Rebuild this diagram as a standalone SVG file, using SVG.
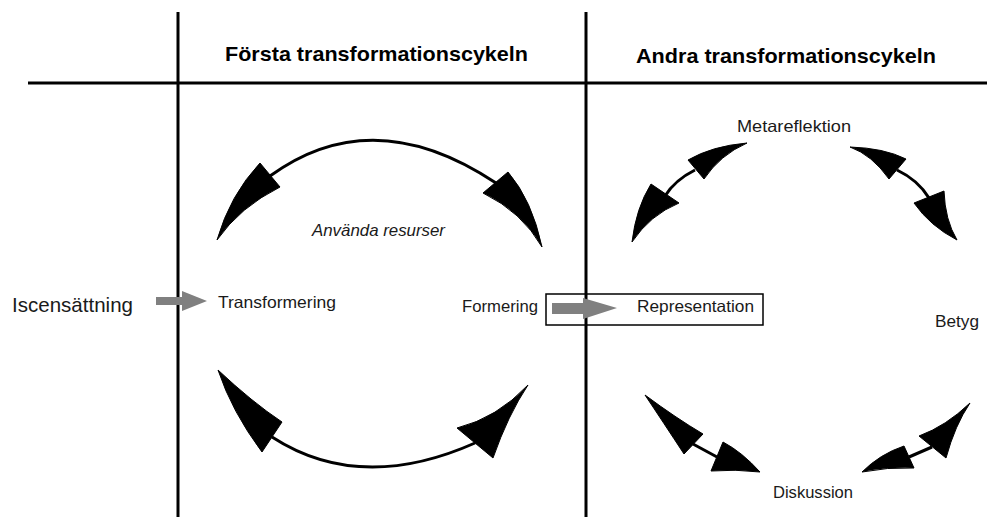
<svg xmlns="http://www.w3.org/2000/svg" width="987" height="517" viewBox="0 0 987 517">
<style>
.t{font-family:"Liberation Sans",Arial,sans-serif;fill:#1a1a1a}
.h{font-family:"Liberation Sans",Arial,sans-serif;font-weight:bold;fill:#000}
.grid{stroke:#000;stroke-width:3;fill:none}
.arc{stroke:#000;stroke-width:3;fill:none}
.head{fill:#000;stroke:#000;stroke-width:1;stroke-linejoin:round}
.gray{fill:#808080}
</style>
<rect width="987" height="517" fill="#fff"/>
<g id="grid">
<line class="grid" x1="178" y1="12" x2="178" y2="517"/>
<line class="grid" x1="586" y1="12" x2="586" y2="517"/>
<line class="grid" x1="28" y1="83" x2="987" y2="83"/>
</g>
<g id="headings">
<text class="h" x="225" y="61" font-size="21" textLength="303" lengthAdjust="spacingAndGlyphs">Första transformationscykeln</text>
<text class="h" x="636" y="63" font-size="21" textLength="300" lengthAdjust="spacingAndGlyphs">Andra transformationscykeln</text>
</g>
<g id="connectors">
<path class="arc" d="M270,176 Q373,101 496,183"/>
<path class="head" d="M260,163 L280,187 Q240,207 217,240 Q230,195 260,163 Z"/>
<path class="head" d="M508,172 L483,193 Q522,212 542,247 Q532,200 508,172 Z"/>
<path class="arc" d="M272,437 Q360,494 475,443"/>
<path class="head" d="M282,422 L262,452 Q232,412 218,370 Q252,402 282,422 Z"/>
<path class="head" d="M457,428 L493,458 Q508,415 528,385 Q497,418 457,428 Z"/>
<path class="arc" d="M695,170 Q675,180 665,196"/>
<path class="head" d="M688,160 L704,179 Q720,155 747,143 Q712,146 688,160 Z"/>
<path class="head" d="M651,184 L679,203 Q650,215 632,242 Q636,208 651,184 Z"/>
<path class="arc" d="M897,170 Q918,180 929,198"/>
<path class="head" d="M906,159 L889,179 Q872,155 850,147 Q884,148 906,159 Z"/>
<path class="head" d="M914,203 L944,191 Q945,220 957,240 Q930,226 914,203 Z"/>
<path class="arc" d="M693,444 L717,457"/>
<path class="head" d="M703,434 L684,454 Q663,422 645,395 Q676,418 703,434 Z"/>
<path class="head" d="M723,442 L711,471 Q735,469 760,472 Q742,452 723,442 Z"/>
<path class="arc" d="M909,457 L932,447"/>
<path class="head" d="M904,446 L914,468 Q887,467 862,472 Q880,454 904,446 Z"/>
<path class="head" d="M919,436 L946,458 Q955,425 970,403 Q946,426 919,436 Z"/>
<path class="gray" d="M156,297 L182,297 L182,291 L207,301 L182,311 L182,305 L156,305 Z"/>
<path class="gray" d="M552,303 L583,303 L583,298 L617,308 L583,319 L583,314 L552,314 Z"/>
</g>
<g id="n-iscensattning"><text class="t" x="12" y="312" font-size="21" textLength="121" lengthAdjust="spacingAndGlyphs">Iscensättning</text></g>
<g id="n-transformering"><text class="t" x="218" y="308" font-size="16.5" textLength="118" lengthAdjust="spacingAndGlyphs">Transformering</text></g>
<g id="n-anvanda"><text class="t" x="312" y="236" font-size="16.5" font-style="italic" textLength="133" lengthAdjust="spacingAndGlyphs">Använda resurser</text></g>
<g id="n-formering"><text class="t" x="462" y="312" font-size="16.5" textLength="76" lengthAdjust="spacingAndGlyphs">Formering</text></g>
<g id="n-representation"><rect x="546" y="294" width="217" height="31" fill="none" stroke="#000" stroke-width="1.5"/><text class="t" x="637" y="312" font-size="16.5" textLength="117" lengthAdjust="spacingAndGlyphs">Representation</text></g>
<g id="n-metareflektion"><text class="t" x="737" y="132" font-size="16.5" textLength="114" lengthAdjust="spacingAndGlyphs">Metareflektion</text></g>
<g id="n-betyg"><text class="t" x="935" y="327" font-size="16.5" textLength="44" lengthAdjust="spacingAndGlyphs">Betyg</text></g>
<g id="n-diskussion"><text class="t" x="773" y="498" font-size="16.5" textLength="80" lengthAdjust="spacingAndGlyphs">Diskussion</text></g>
</svg>
